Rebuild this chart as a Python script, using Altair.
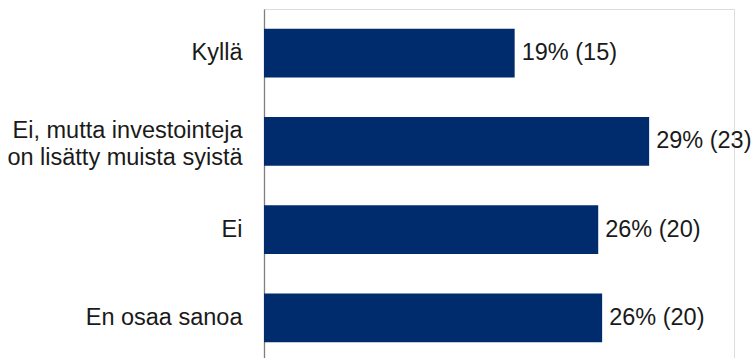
import altair as alt
import pandas as pd

categories = ["Kyllä", "Ei, mutta investointeja\non lisätty muista syistä", "Ei", "En osaa sanoa"]
shares = [19.2, 29.5, 25.6, 25.9]
pct_labels = [19, 29, 26, 26]
counts = [15, 23, 20, 20]

df = pd.DataFrame({
    "cat": categories,
    "share": shares,
    "label": [f"{p}% ({n})" for p, n in zip(pct_labels, counts)],
})

FONT = "Liberation Sans, Arial, sans-serif"

y = alt.Y("cat:N", sort=categories,
          scale=alt.Scale(paddingInner=0.45, paddingOuter=0.225),
          axis=alt.Axis(title=None, ticks=False, labelPadding=22,
                        labelFont=FONT, labelFontSize=23.5, labelColor="#1a1a1a",
                        labelLineHeight=27, labelLimit=400,
                        labelExpr="split(datum.label, '\\n')",
                        labelOffset={"condition": {"test": "indexof(datum.label, '\\n') >= 0", "value": -10}, "value": 0},
                        domainColor="#7f7f7f", domainWidth=1.3, grid=False))
x = alt.X("share:Q", scale=alt.Scale(domain=[0, 36], nice=False, zero=True), axis=None)

bars = alt.Chart(df).mark_bar(color="#002b6c").encode(x=x, y=y)
text = alt.Chart(df).mark_text(align="left", baseline="middle", dx=7,
                               font=FONT, fontSize=23.5, color="#1a1a1a").encode(
    x=x, y=y, text="label:N")

chart = (bars + text).properties(
    width=470, height=353,
    padding={"left": 264, "top": 9, "right": 19, "bottom": 0},
    autosize=alt.AutoSizeParams(type="none"),
).configure_view(stroke=None).configure(background="white")

chart.save("out.html", embed_options={"renderer": "svg", "actions": False})
